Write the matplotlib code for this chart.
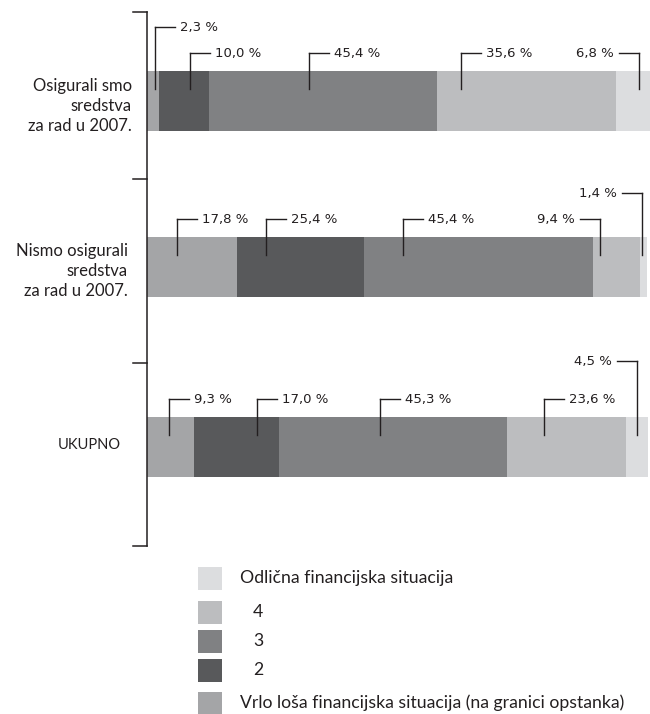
import matplotlib.pyplot as plt
from matplotlib.patches import Rectangle

# data
groups = ['Osigurali smo\nsredstva\nza rad u 2007.',
          'Nismo osigurali\nsredstva\nza rad u 2007.',
          'UKUPNO']
osigurali = [2.3, 10.0, 45.4, 35.6, 6.8]
nismo = [17.8, 25.4, 45.4, 9.4, 1.4]
ukupno = [9.3, 17.0, 45.3, 23.6, 4.5]
levels = ['Vrlo loša financijska situacija (na granici opstanka)',
          '2', '3', '4', 'Odlična financijska situacija']
colors = ['#a4a5a7', '#58595b', '#808183', '#bcbdbf', '#dcdddf']

rows = [osigurali, nismo, ukupno]

# layout (pixel units of the 650x714 picture)
X0 = 147            # left edge of the bars
PX = 100 / 503      # data units per pixel
bar_y = [101, 267, 447]
bar_h = 60
lead_frac = [[0.67, 0.62, 0.44, 0.13, 0.65],
             [0.33, 0.23, 0.17, 0.15, 0.30],
             [0.48, 0.74, 0.44, 0.31, 0.48]]
high_idx = [0, 4, 4]
high_off = [44, 44, 56]
left_text = [[4], [3, 4], [4]]


def X(px):
    return (px - X0) * PX


fig = plt.figure(figsize=(6.5, 7.14), dpi=100)
ax = fig.add_axes([0, 0, 1, 1])
ax.set_xlim(X(0), X(650))
ax.set_ylim(714, 0)
ax.axis('off')

# stacked bars
for r, vals in enumerate(rows):
    left = 0
    for i, v in enumerate(vals):
        ax.barh(bar_y[r], v, left=left, height=bar_h, color=colors[i], lw=0)
        top = bar_y[r] - bar_h / 2
        lx = left + v * lead_frac[r][i]
        ly = top - (high_off[r] if i == high_idx[r] else 18)
        txt = f"{v:.1f}".replace('.', ',') + ' %'
        ax.plot([lx, lx], [top + 18, ly], color='#231f20', lw=1.0, clip_on=False)
        if i in left_text[r]:
            ax.plot([lx - 20 * PX, lx], [ly, ly], color='#231f20', lw=1.0, clip_on=False)
            ax.text(lx - 25 * PX, ly, txt, ha='right', va='center',
                    fontsize=9.5, family='DejaVu Sans', color='#231f20')
        else:
            ax.plot([lx, lx + 20 * PX], [ly, ly], color='#231f20', lw=1.0, clip_on=False)
            ax.text(lx + 25 * PX, ly, txt, ha='left', va='center',
                    fontsize=9.5, family='DejaVu Sans', color='#231f20')
        left += v

# bracket axis
ax.plot([0, 0], [12, 546], color='#231f20', lw=1.1)
for ty in [12, 179, 363, 546]:
    ax.plot([X(133), 0], [ty, ty], color='#231f20', lw=1.1)

# group labels
ax.text(X(132), 106, groups[0], ha='right', va='center', fontsize=12,
        family='Lato', color='#231f20', linespacing=1.3, multialignment='right')
ax.text(X(128), 271, groups[1], ha='right', va='center', fontsize=12,
        family='Lato', color='#231f20', linespacing=1.3, multialignment='right')
ax.text(X(121), 445, groups[2], ha='right', va='center', fontsize=10.5,
        family='Lato', color='#231f20')

# legend
leg_y = [703, 670, 641, 612, 578]
for i, lab in enumerate(levels):
    ax.add_patch(Rectangle((X(198), leg_y[i] - 11.5), 24 * PX, 23,
                           color=colors[i], lw=0, clip_on=False))
    tx = X(253) if len(lab) == 1 else X(240)
    ax.text(tx, leg_y[i], lab, ha='left', va='center', fontsize=12.7,
            family='Lato', color='#231f20')

plt.savefig('out.png', dpi=100)
